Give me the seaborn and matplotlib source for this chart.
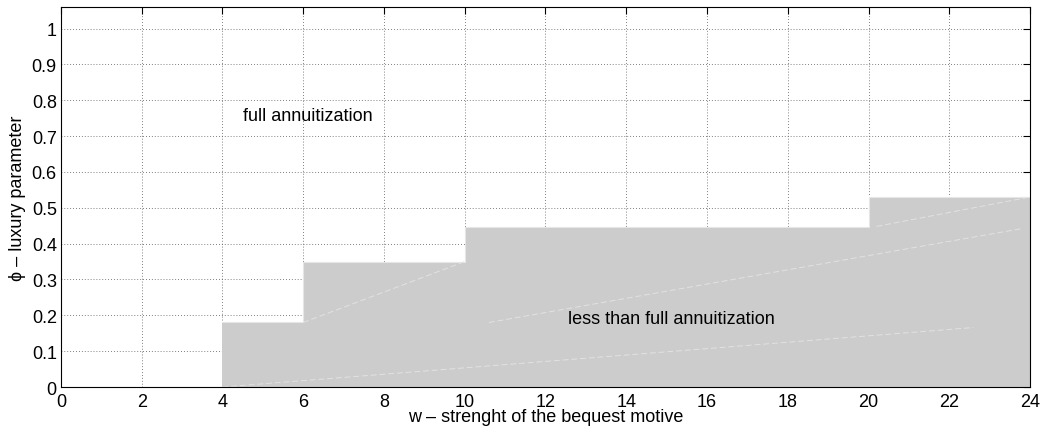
import matplotlib
matplotlib.use("Agg")
import matplotlib.pyplot as plt
import seaborn as sns
import numpy as np
import pandas as pd

# ---- data ----
w_edges = [4, 6, 10, 20, 24]
phi_levels = [0.18, 0.35, 0.445, 0.53]
x_ticks = list(range(0, 25, 2))
y_ticks = [0, 0.1, 0.2, 0.3, 0.4, 0.5, 0.6, 0.7, 0.8, 0.9, 1.0]
y_tick_labels = ["0", "0.1", "0.2", "0.3", "0.4", "0.5", "0.6", "0.7", "0.8", "0.9", "1"]
# faint boundary traces inside the shaded region
trace1_w = [6, 10]
trace1_phi = [0.18, 0.35]
trace2_w = [10.6, 23.8]
trace2_phi = [0.18, 0.442]
trace3_w = [4, 22.6]
trace3_phi = [0.0, 0.166]
trace4_w = [20.2, 24]
trace4_phi = [0.448, 0.53]
region_labels = ["full annuitization", "less than full annuitization"]

sns.set_theme(style="white")
plt.rcParams['font.family'] = ['Liberation Sans', 'DejaVu Sans']
plt.rcParams['text.color'] = 'black'
plt.rcParams['axes.labelcolor'] = 'black'

FS = 13

fig = plt.figure(figsize=(10.44, 4.35), dpi=100)
ax = fig.add_axes([0.0584, 0.108, 0.9282, 0.8736])

# step-shaped shaded region
step_w = w_edges
step_phi = phi_levels + [phi_levels[-1]]
df = pd.DataFrame({"w": step_w, "phi": step_phi})
ax.fill_between(df["w"], 0, df["phi"], step="post", color="#cccccc",
                linewidth=0, zorder=2)
sns.lineplot(x=df["w"], y=df["phi"], drawstyle="steps-post", color="#e6e6e6",
             linewidth=0.8, ax=ax, zorder=3)

for tw, tp in [(trace1_w, trace1_phi), (trace2_w, trace2_phi),
               (trace3_w, trace3_phi), (trace4_w, trace4_phi)]:
    sns.lineplot(x=tw, y=tp, color="#e2e2e2", linewidth=0.7, linestyle=(0, (6, 3)),
                 ax=ax, zorder=3)

ax.text(4.5, 0.758, region_labels[0], fontsize=FS, va="center", ha="left",
        color="black", zorder=4)
ax.text(12.55, 0.19, region_labels[1], fontsize=FS, va="center", ha="left",
        color="black", zorder=4)

ax.set_xlim(0, 24)
ax.set_ylim(0, 1.06)
ax.set_xticks(x_ticks)
ax.set_xticklabels([str(t) for t in x_ticks])
ax.set_yticks(y_ticks)
ax.set_yticklabels(y_tick_labels)

ax.grid(True, linestyle=(0, (1, 2.5)), color="#555555", linewidth=0.6)
ax.set_axisbelow(True)

ax.tick_params(axis="both", which="major", direction="in", length=5, width=0.8,
               top=True, right=True, labelsize=FS, colors="black")
ax.tick_params(axis="x", pad=4)
ax.tick_params(axis="y", pad=3)
for s in ax.spines.values():
    s.set_color("black")
    s.set_linewidth(0.8)
    s.set_zorder(5)

ax.set_xlabel("w \u2013 strenght of the bequest motive", fontsize=FS, labelpad=-1)
ax.set_ylabel("\u03d5 \u2013 luxury parameter", fontsize=FS, labelpad=4)

fig.savefig("out.png", dpi=100)
